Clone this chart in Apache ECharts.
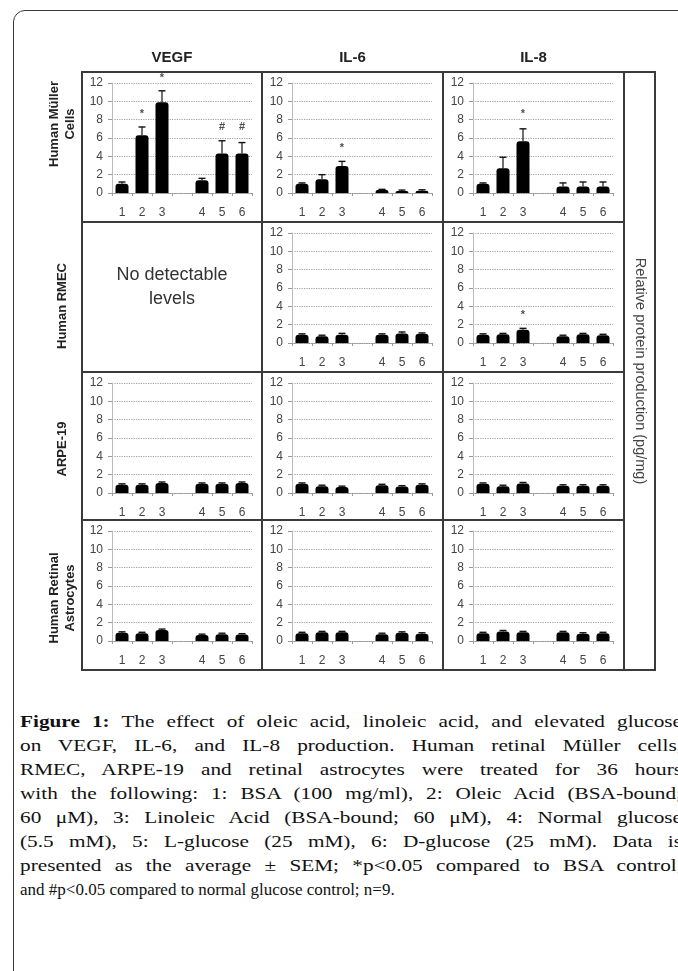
<!DOCTYPE html>
<html>
<head>
<meta charset="utf-8">
<script src="https://cdn.jsdelivr.net/npm/echarts@6/dist/echarts.min.js"></script>
<style>
  html, body { margin: 0; padding: 0; width: 678px; height: 971px; overflow: hidden; background: #fff; }
  #card { position: absolute; left: 13px; top: 10px; width: 720px; height: 1030px; border: 1.5px solid #3a3a3a; border-radius: 12px; box-sizing: border-box; }
  #chart { position: absolute; left: 0; top: 0; width: 678px; height: 700px; }
  #caption { position: absolute; left: 20px; top: 710px; width: 662px; line-height: 24px; color: #111; }
  #caption div { white-space: nowrap; font-family: 'Liberation Serif', serif; font-size: 17px; height: 24px; }
  #caption .fit span { display: inline-block; transform-origin: 0 50%; }
</style>
</head>
<body>
<div id="card"></div>
<div id="chart"></div>
<div id="caption">
  <div class="fit"><span><b>Figure 1:</b> The effect of oleic acid, linoleic acid, and elevated glucose</span></div>
  <div class="fit"><span>on VEGF, IL-6, and IL-8 production. Human retinal Müller cells,</span></div>
  <div class="fit"><span>RMEC, ARPE-19 and retinal astrocytes were treated for 36 hours</span></div>
  <div class="fit"><span>with the following: 1: BSA (100 mg/ml), 2: Oleic Acid (BSA-bound;</span></div>
  <div class="fit"><span>60 μM), 3: Linoleic Acid (BSA-bound; 60 μM), 4: Normal glucose</span></div>
  <div class="fit"><span>(5.5 mM), 5: L-glucose (25 mM), 6: D-glucose (25 mM). Data is</span></div>
  <div class="fit"><span>presented as the average ± SEM; *p&lt;0.05 compared to BSA control,</span></div>
  <div class="last"><span>and #p&lt;0.05 compared to normal glucose control; n=9.</span></div>
</div>
<script>
// treatment groups (blank slot = gap between fatty acid and glucose groups)
const categories = ['1', '2', '3', '', '4', '5', '6']
const markers = ['VEGF', 'IL-6', 'IL-8']
const cellTypes = ['Human Müller\nCells', 'Human RMEC', 'ARPE-19', 'Human Retinal\nAstrocytes']
const yTicks = [0, 2, 4, 6, 8, 10, 12]

// Human Müller cells
const mullerVegf = [1.0, 6.3, 9.9, null, 1.4, 4.3, 4.3]
const mullerVegfErr = [0.2, 0.9, 1.25, null, 0.2, 1.4, 1.2]
const mullerVegfSig = ['', '*', '*', '', '', '#', '#']
const mullerVegfSigY = [null, 8.6, 12.5, null, null, 7.2, 7.2]
const mullerIl6 = [1.0, 1.5, 2.95, null, 0.35, 0.22, 0.25]
const mullerIl6Err = [0.1, 0.5, 0.5, null, 0.05, 0.1, 0.1]
const mullerIl6Sig = ['', '', '*', '', '', '', '']
const mullerIl6SigY = [null, null, 4.9, null, null, null, null]
const mullerIl8 = [1.0, 2.7, 5.65, null, 0.7, 0.7, 0.7]
const mullerIl8Err = [0.1, 1.2, 1.35, null, 0.4, 0.5, 0.5]
const mullerIl8Sig = ['', '', '*', '', '', '', '']
const mullerIl8SigY = [null, null, 8.6, null, null, null, null]

// Human RMEC (VEGF not detectable)
const rmecIl6 = [0.9, 0.75, 0.9, null, 0.9, 1.05, 1.0]
const rmecIl6Err = [0.1, 0.1, 0.15, null, 0.1, 0.15, 0.1]
const rmecIl8 = [0.9, 0.95, 1.45, null, 0.75, 0.95, 0.85]
const rmecIl8Err = [0.1, 0.1, 0.15, null, 0.1, 0.1, 0.1]
const rmecIl8Sig = ['', '', '*', '', '', '', '']
const rmecIl8SigY = [null, null, 3.1, null, null, null, null]

// ARPE-19
const arpeVegf = [0.9, 0.9, 1.1, null, 1.0, 1.0, 1.1]
const arpeVegfErr = [0.1, 0.1, 0.1, null, 0.1, 0.1, 0.1]
const arpeIl6 = [1.0, 0.75, 0.65, null, 0.85, 0.7, 0.9]
const arpeIl6Err = [0.1, 0.1, 0.1, null, 0.1, 0.1, 0.1]
const arpeIl8 = [1.0, 0.75, 1.05, null, 0.8, 0.8, 0.8]
const arpeIl8Err = [0.1, 0.1, 0.1, null, 0.1, 0.1, 0.1]

// Human retinal astrocytes
const astroVegf = [0.9, 0.85, 1.2, null, 0.65, 0.75, 0.7]
const astroVegfErr = [0.1, 0.1, 0.1, null, 0.1, 0.1, 0.1]
const astroIl6 = [0.85, 0.95, 0.95, null, 0.75, 0.9, 0.8]
const astroIl6Err = [0.1, 0.1, 0.1, null, 0.1, 0.1, 0.1]
const astroIl8 = [0.85, 1.05, 0.95, null, 0.95, 0.8, 0.85]
const astroIl8Err = [0.1, 0.1, 0.1, null, 0.1, 0.1, 0.1]

const panels = [
  { row: 0, col: 0, values: mullerVegf, err: mullerVegfErr, sig: mullerVegfSig, sigY: mullerVegfSigY },
  { row: 0, col: 1, values: mullerIl6, err: mullerIl6Err, sig: mullerIl6Sig, sigY: mullerIl6SigY },
  { row: 0, col: 2, values: mullerIl8, err: mullerIl8Err, sig: mullerIl8Sig, sigY: mullerIl8SigY },
  { row: 1, col: 1, values: rmecIl6, err: rmecIl6Err },
  { row: 1, col: 2, values: rmecIl8, err: rmecIl8Err, sig: rmecIl8Sig, sigY: rmecIl8SigY },
  { row: 2, col: 0, values: arpeVegf, err: arpeVegfErr },
  { row: 2, col: 1, values: arpeIl6, err: arpeIl6Err },
  { row: 2, col: 2, values: arpeIl8, err: arpeIl8Err },
  { row: 3, col: 0, values: astroVegf, err: astroVegfErr },
  { row: 3, col: 1, values: astroIl6, err: astroIl6Err },
  { row: 3, col: 2, values: astroIl8, err: astroIl8Err },
]

// widen + justify caption lines like the printed (wider serif) figure text
const captionWidth = 662
const captionStretch = 1.25
document.querySelectorAll('#caption .fit span').forEach(span => {
  const w = span.getBoundingClientRect().width
  const gaps = (span.textContent.match(/ /g) || []).length
  const ws = Math.max(-1, (captionWidth / captionStretch - w) / gaps)
  span.style.wordSpacing = ws + 'px'
  span.style.transform = 'scaleX(' + captionStretch + ')'
})

// layout of the figure box
const boxLeft = 82, boxTop = 72, boxRight = 655, boxBottom = 670
const colLeft = [82, 262, 443, 624]
const rowTop = [72, 222, 372, 520, 670]
const sans = 'Liberation Sans, Arial, sans-serif'
const gridColor = '#a39cab'

const chart = echarts.init(document.getElementById('chart'))

const grid = [], xAxis = [], yAxis = [], series = []
panels.forEach((p, i) => {
  grid.push({ left: colLeft[p.col] + 30, top: rowTop[p.row] + 11, width: 140, height: 110 })
  xAxis.push({
    gridIndex: i,
    type: 'category',
    data: categories,
    axisLine: { lineStyle: { color: '#999', type: 'dotted', width: 1.2 } },
    axisTick: { show: true, length: 3, lineStyle: { color: '#999' } },
    axisLabel: { color: '#444', fontSize: 12, fontFamily: sans, margin: 14, interval: 0 },
  })
  yAxis.push({
    gridIndex: i,
    type: 'value',
    min: yTicks[0],
    max: yTicks[yTicks.length - 1],
    interval: yTicks[1] - yTicks[0],
    axisLine: { show: true, lineStyle: { color: '#bbb' } },
    axisTick: { show: true, length: 4, lineStyle: { color: '#999' } },
    axisLabel: { color: '#444', fontSize: 12, fontFamily: sans, margin: 9 },
    splitLine: { show: true, lineStyle: { color: gridColor, type: 'dotted', width: 1.2 } },
  })
  series.push({
    type: 'bar',
    xAxisIndex: i,
    yAxisIndex: i,
    data: p.values,
    barWidth: 13,
    itemStyle: { color: '#000', borderRadius: [3, 3, 0, 0] },
    silent: true,
  })
  // error bars (mean + SEM)
  series.push({
    type: 'custom',
    xAxisIndex: i,
    yAxisIndex: i,
    data: p.values.map((v, k) => (v == null ? null : [k, v, p.err[k]])).filter(d => d),
    renderItem: (params, api) => {
      const base = api.coord([api.value(0), api.value(1)])
      const top = api.coord([api.value(0), api.value(1) + api.value(2)])
      return {
        type: 'group',
        children: [
          { type: 'line', shape: { x1: base[0], y1: base[1], x2: top[0], y2: top[1] }, style: { stroke: '#111', lineWidth: 1.2 } },
          { type: 'line', shape: { x1: top[0] - 3.5, y1: top[1], x2: top[0] + 3.5, y2: top[1] }, style: { stroke: '#111', lineWidth: 1.4 } },
        ],
      }
    },
    silent: true,
    z: 3,
  })
  if (p.sig) {
    series.push({
      type: 'scatter',
      xAxisIndex: i,
      yAxisIndex: i,
      clip: false,
      symbolSize: 0,
      data: p.sig.map((s, k) => (s ? [k, p.sigY[k], s] : null)).filter(d => d),
      label: {
        show: true,
        position: 'inside',
        formatter: d => d.data[2],
        fontSize: 11,
        fontWeight: 'bold',
        color: '#222',
        fontFamily: sans,
      },
      silent: true,
    })
  }
})

const graphic = []
// column titles
markers.forEach((m, c) => {
  graphic.push({
    type: 'text', x: (colLeft[c] + colLeft[c + 1]) / 2, y: 58,
    style: { text: m, font: 'bold 15px ' + sans, fill: '#222', align: 'center', verticalAlign: 'middle' },
  })
})
// row titles
const rowLabelY = [124, 306, 449, 598]
cellTypes.forEach((t, r) => {
  graphic.push({
    type: 'text', x: 62, y: rowLabelY[r], rotation: Math.PI / 2,
    style: { text: t, font: 'bold 13px ' + sans, fill: '#222', align: 'center', verticalAlign: 'middle', lineHeight: 16 },
  })
})
graphic.push({
  type: 'text', x: 172, y: 287,
  style: { text: 'No detectable\nlevels', font: '18px ' + sans, fill: '#333', align: 'center', verticalAlign: 'middle', lineHeight: 24 },
})
graphic.push({
  type: 'text', x: 640, y: 371, rotation: -Math.PI / 2,
  style: { text: 'Relative protein production (pg/mg)', font: '14.5px ' + sans, fill: '#444', align: 'center', verticalAlign: 'middle' },
})
// box and dividers
graphic.push({
  type: 'rect', shape: { x: boxLeft, y: boxTop, width: boxRight - boxLeft, height: boxBottom - boxTop },
  style: { fill: 'none', stroke: '#3a3a3a', lineWidth: 2 },
})
colLeft.slice(1).forEach(x => {
  graphic.push({ type: 'line', shape: { x1: x, y1: boxTop, x2: x, y2: boxBottom }, style: { stroke: '#3a3a3a', lineWidth: 2 } })
})
rowTop.slice(1, 4).forEach(y => {
  graphic.push({ type: 'line', shape: { x1: boxLeft, y1: y, x2: colLeft[3], y2: y }, style: { stroke: '#3a3a3a', lineWidth: 2 } })
})

chart.setOption({
  animation: false,
  grid,
  xAxis,
  yAxis,
  series,
  graphic,
})
</script>
</body>
</html>
